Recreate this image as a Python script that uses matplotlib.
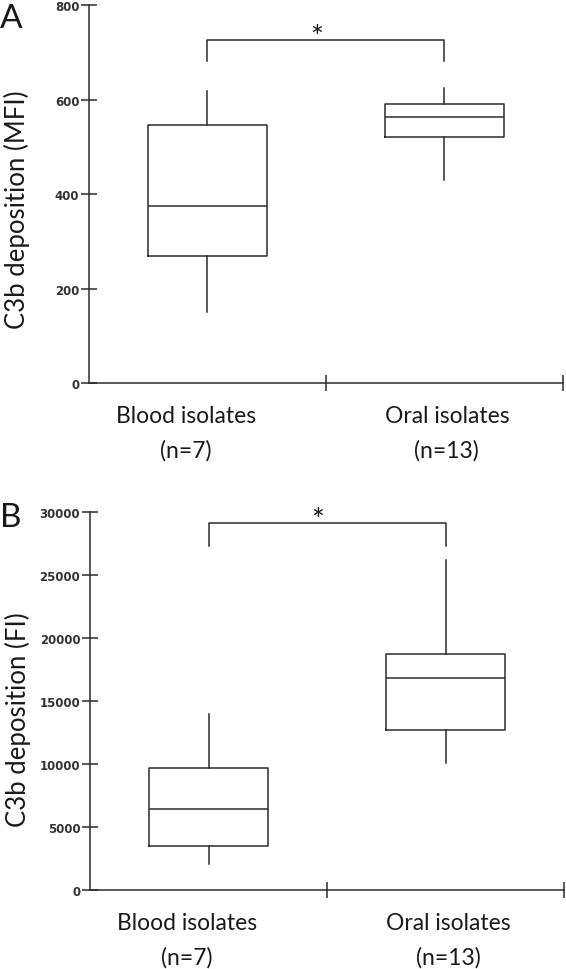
import matplotlib
matplotlib.use("Agg")
import matplotlib.pyplot as plt

# ---- data ----
cat_names = ["Blood isolates", "Oral isolates"]
cat_n = ["(n=7)", "(n=13)"]

# Panel A: C3b deposition (MFI)
a_whislo = [150, 430]
a_q1 = [268, 521]
a_med = [374, 564]
a_q3 = [546, 590]
a_whishi = [618, 625]
a_yticks = [0, 200, 400, 600, 800]
a_bracket = [681, 727]

# Panel B: C3b deposition (FI)
b_whislo = [2060, 10050]
b_q1 = [3460, 12710]
b_med = [6420, 16840]
b_q3 = [9650, 18690]
b_whishi = [13960, 26170]
b_yticks = [0, 5000, 10000, 15000, 20000, 25000, 30000]
b_bracket = [27300, 29080]

LINE = "#2b2b2b"
TXT = "#1a1a1a"
TICK = "#333333"

fig = plt.figure(figsize=(5.66, 9.70), dpi=100)


def panel(rect, lo, q1, med, q3, hi, yticks, bracket, ylabel, ylab_y, letter, letter_y):
    ax = fig.add_axes(rect)
    stats = []
    for i in range(len(cat_names)):
        stats.append(dict(whislo=lo[i], q1=q1[i], med=med[i], q3=q3[i], whishi=hi[i]))
    pos = [0.5, 1.5]
    ax.bxp(stats, positions=pos, widths=0.5, showfliers=False, showcaps=False,
           boxprops=dict(color=LINE, linewidth=1.1),
           whiskerprops=dict(color=LINE, linewidth=1.1),
           medianprops=dict(color=LINE, linewidth=1.1))
    ax.set_xlim(0, 2)
    ax.set_ylim(yticks[0], yticks[-1])
    ax.set_yticks(yticks)
    ax.set_yticklabels([str(t) for t in yticks], fontfamily="DejaVu Sans",
                       fontweight="bold", fontsize=8.5, color=TICK)
    ax.set_xticks([1, 2])
    ax.set_xticklabels([])
    ax.tick_params(axis="y", direction="inout", length=12, width=1.1, color=LINE, pad=1)
    ax.tick_params(axis="x", direction="inout", length=12, width=1.1, color=LINE)
    for s in ["top", "right"]:
        ax.spines[s].set_visible(False)
    for s in ["left", "bottom"]:
        ax.spines[s].set_color(LINE)
        ax.spines[s].set_linewidth(1.1)
    # bracket
    ax.plot([pos[0], pos[0], pos[1], pos[1]],
            [bracket[0], bracket[1], bracket[1], bracket[0]],
            color=LINE, linewidth=1.1, clip_on=False)
    ax.annotate("*", xy=(0.96, bracket[1]), xytext=(0, -8), textcoords="offset points",
                ha="center", va="bottom", fontsize=22, fontfamily="Lato", color=TXT)
    # category labels (two lines, baselines placed below axis)
    label_x = [0.41, 1.51]
    for x, nm, n in zip(label_x, cat_names, cat_n):
        ax.annotate(nm, xy=(x, 0), xycoords=ax.get_xaxis_transform(),
                    xytext=(0, -28.1), textcoords="offset points", ha="center",
                    va="baseline", fontsize=16.5, fontfamily="Lato", color=TXT)
        ax.annotate(n, xy=(x, 0), xycoords=ax.get_xaxis_transform(),
                    xytext=(0, -53.3), textcoords="offset points", ha="center",
                    va="baseline", fontsize=16.5, fontfamily="Lato", color=TXT)
    ax.set_ylabel(ylabel, fontsize=18.5, fontfamily="Lato", color=TXT)
    ax.yaxis.set_label_coords(-0.1245, ylab_y)
    fig.text(0.0, letter_y, letter, fontsize=24, fontfamily="Lato", color=TXT,
             ha="left", va="baseline")
    return ax


panel([0.1572, 0.6041, 0.8375, 0.3897], a_whislo, a_q1, a_med, a_q3, a_whishi,
      a_yticks, a_bracket, "C3b deposition (MFI)", 0.46, "A", 1 - 28 / 970)
panel([0.1590, 0.0814, 0.8375, 0.3900], b_whislo, b_q1, b_med, b_q3, b_whishi,
      b_yticks, b_bracket, "C3b deposition (FI)", 0.452, "B", 1 - 527 / 970)

fig.savefig("out.png", dpi=100)
